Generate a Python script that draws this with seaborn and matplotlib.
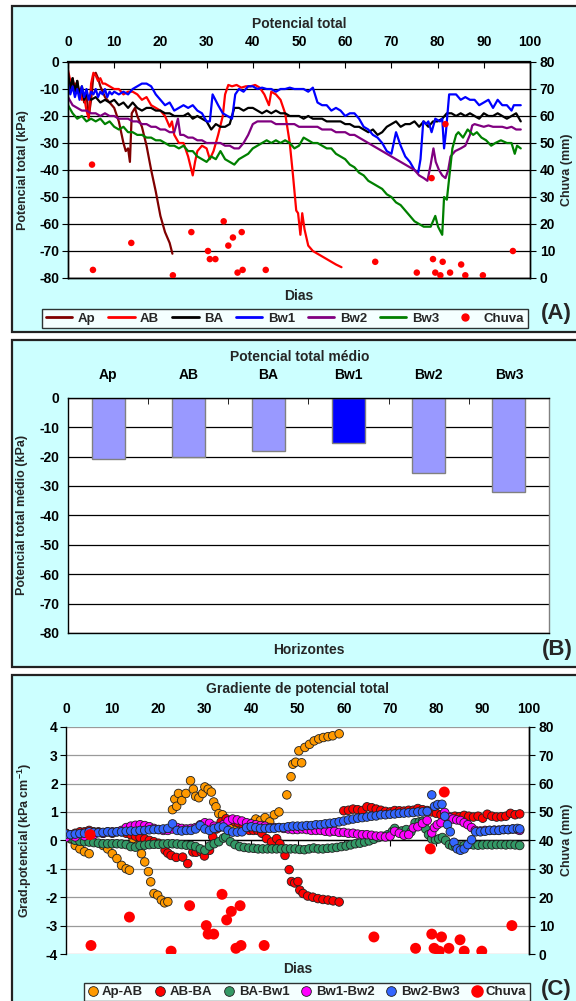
import pandas as pd
import seaborn as sns
import matplotlib.pyplot as plt
from matplotlib.lines import Line2D
from matplotlib.patches import Rectangle


# (A) potencial total (kPa) per horizon, (dia, valor)
AP = [(0, -5), (0.5, -8), (1, -6), (1.5, -11), (2, -7), (2.5, -13), (3, -10), (3.5, -15), (4, -12),
      (4.5, -20), (5, -14), (5.5, -5), (6, -4), (6.5, -6), (7, -9), (8, -13), (9, -15), (10, -17),
      (11, -22), (12, -30), (12.5, -33), (13, -32), (13.4, -37), (13.8, -19), (14.5, -17), (15, -20),
      (16, -24), (17, -31), (18, -40), (19, -48), (20, -57), (21, -63), (22, -67), (22.6, -71)]
AB = [(0, -3), (0.5, -7), (1, -9), (1.5, -8), (2, -11), (2.5, -10), (3, -14), (3.5, -13), (4, -18),
      (4.5, -21), (5, -8), (5.5, -4), (6, -5), (6.5, -7), (7, -6), (7.5, -8), (8, -8), (9, -9),
      (10, -10), (11, -10), (12, -12), (13, -11), (14, -11), (15, -12), (16, -14), (17, -13),
      (18, -16), (19, -17), (20, -18), (21, -20), (22, -24), (22.5, -22), (23, -27), (24, -30),
      (25, -30), (26, -35), (27, -42), (27.5, -37), (28, -33), (29, -31), (30, -32), (30.7, -36),
      (31.5, -33), (32.5, -27), (33.5, -20), (34, -12), (34.7, -8.5), (35.5, -9), (36.5, -8.5),
      (37.5, -9.5), (38.5, -9), (39.5, -9), (40.5, -8.5), (41.5, -9.5), (42.5, -12), (43.5, -16),
      (44, -11), (45, -12), (46, -14), (47, -19), (48, -30), (48.7, -42), (49.4, -55), (49.8, -56),
      (50.3, -64), (50.7, -56), (51.2, -62), (52, -68), (53, -70), (54, -71), (55, -72), (56, -73),
      (57, -74), (58, -75), (59.2, -76)]
BA = [(0, -4), (0.5, -10), (1, -6), (1.5, -11), (2, -7), (2.5, -12), (3, -9), (3.5, -14), (4, -12),
      (5, -14), (6, -13), (7, -15), (8, -14), (9, -15), (10, -14), (11, -16), (12, -15), (13, -17),
      (14, -15), (15, -17), (16, -18), (17, -17), (18, -17), (19, -18), (20, -18), (21, -19),
      (22, -19), (23, -20), (24, -20), (25, -20), (26, -19), (27, -21), (28, -20), (29, -21),
      (30, -22), (31, -25), (32, -23), (33, -24), (34, -24), (35, -23), (35.5, -20), (36, -17),
      (37, -17), (38, -18), (39, -17), (40, -17), (41, -18), (42, -19), (43, -18), (44, -19),
      (45, -18), (46, -19), (47, -19), (48, -20), (49, -20), (50, -20), (51, -21), (52, -20),
      (53, -21), (54, -21), (55, -21), (56, -22), (57, -22), (58, -22), (59, -22), (60, -23),
      (61, -23), (62, -24), (63, -24), (64, -25), (65, -26), (66, -25), (67, -27), (68, -26),
      (69, -24), (70, -23), (71, -22), (72, -24), (73, -23), (74, -23), (75, -22), (76, -24),
      (77, -22), (78, -24), (79, -22), (80, -22), (81, -21), (82, -19), (83, -19), (84, -20),
      (85, -19), (86, -20), (87, -19), (88, -20), (89, -21), (90, -19), (91, -20), (92, -20),
      (93, -19), (94, -20), (95, -21), (96, -20), (97, -19), (98, -22)]
BW1 = [(0, -8), (0.5, -12), (1, -9), (1.5, -13), (2, -10), (2.5, -14), (3, -9), (3.5, -13), (4, -10),
       (4.5, -14), (5, -11), (5.5, -12), (6, -10), (6.5, -13), (7, -11), (7.5, -12), (8, -10),
       (8.5, -13), (9, -11), (9.5, -12), (10, -11), (11, -12), (12, -11), (13, -12), (14, -10),
       (15, -9), (16, -8), (17, -8), (18, -9), (19, -12), (20, -14), (21, -16), (22, -15), (23, -18),
       (24, -17), (25, -16), (26, -17), (27, -16), (28, -18), (29, -19), (30, -22), (30.7, -22),
       (31.3, -12), (32.5, -16), (33.5, -19), (34.5, -20), (35.5, -21), (36.2, -12), (37, -10),
       (38, -11), (39, -9), (40, -9), (41, -10), (42, -9.5), (43, -10), (44, -10), (45, -11),
       (46, -10), (47, -10), (48, -9.5), (49, -10), (50, -10), (51, -10), (52, -11), (53, -9.5),
       (54, -15), (55, -16), (56, -16), (57, -18), (58, -17), (59, -18), (60, -20), (61, -19),
       (62, -19), (63, -21), (64, -24), (65, -25), (66, -27), (67, -28), (68, -30), (69, -33),
       (70, -34), (71, -26), (72, -31), (73, -35), (74, -37), (75, -40), (75.8, -41), (76.3, -36),
       (76.9, -22), (77.5, -23), (78, -22), (78.7, -26), (79.5, -21), (80.5, -22), (81, -21),
       (81.4, -32), (81.8, -26), (82.5, -12), (83, -12), (84, -12), (85, -14), (86, -13), (87, -14),
       (88, -14), (89, -16), (90, -15), (91, -14), (92, -17), (93, -14), (94, -16), (95, -16),
       (96, -18), (96.5, -16), (97, -16), (98, -16)]
BW2 = [(0, -13), (1, -16), (2, -17), (3, -18), (4, -18), (5, -19), (6, -19), (7, -20), (8, -19),
       (9, -20), (10, -20), (11, -21), (12, -21), (13, -21), (14, -22), (15, -22), (16, -23),
       (17, -23), (18, -24), (19, -24), (20, -25), (21, -25), (22, -26), (23, -26), (23.8, -21),
       (24.3, -27), (25, -27), (26, -28), (27, -28), (28, -29), (29, -29), (30, -30), (31, -30),
       (32, -30), (33, -30), (34, -31), (35, -31), (36, -32), (37, -32), (38, -30), (39, -27),
       (40, -23), (41, -22), (42, -22), (43, -22), (44, -22), (45, -23), (46, -23), (47, -23),
       (48, -23), (49, -23), (50, -24), (51, -24), (52, -24), (53, -24), (54, -24), (55, -25),
       (56, -25), (57, -25), (58, -26), (59, -26), (60, -26), (61, -27), (62, -27), (63, -28),
       (64, -29), (65, -30), (66, -31), (67, -32), (68, -33), (69, -34), (70, -35), (71, -36),
       (72, -37), (73, -38), (74, -39), (75, -40), (76, -42), (77, -43), (77.8, -44), (78.5, -38),
       (79.1, -32), (79.6, -37), (80.3, -40), (81, -42), (81.7, -43), (82.3, -40), (82.8, -35),
       (83.8, -33), (85, -32), (86, -31), (87, -27), (87.5, -23.5), (88, -23), (89, -23.5), (90, -24),
       (91, -23.5), (92, -24), (93, -24), (94, -24), (95, -24.5), (96, -24), (97, -25), (98, -25)]
BW3 = [(0, -16), (1, -19), (2, -21), (3, -20), (4, -22), (5, -21), (6, -22), (7, -21), (8, -23),
       (9, -22), (10, -24), (11, -25), (12, -24), (13, -26), (14, -26), (15, -27), (16, -27),
       (17, -28), (18, -28), (19, -29), (20, -29), (21, -30), (22, -31), (23, -31), (24, -32),
       (25, -31), (26, -33), (27, -33), (28, -35), (29, -36), (30, -37), (31, -35), (32, -36),
       (33, -33), (34, -36), (35, -37), (36, -38), (37, -36), (38, -35), (39, -34), (40, -32),
       (41, -31), (42, -30), (43, -29), (44, -30), (45, -29), (46, -30), (47, -29), (48, -30),
       (49, -32), (50, -31), (51, -28), (52, -29), (53, -30), (54, -30), (55, -31), (56, -32),
       (57, -32), (58, -34), (59, -35), (60, -36), (61, -38), (62, -39), (63, -41), (64, -42),
       (65, -44), (66, -45), (67, -46), (68, -47), (69, -49), (70, -50), (71, -52), (72, -53),
       (73, -55), (74, -57), (75, -59), (76, -60), (77, -61), (78, -61), (78.5, -61), (79.5, -57),
       (80.1, -61), (81, -64), (81.4, -50), (82, -51), (83.2, -32), (84, -27), (84.5, -26),
       (85.5, -28), (86.5, -25), (87.7, -27), (88.5, -26), (89.5, -28), (90.5, -29), (91.6, -31),
       (92.5, -30), (93.7, -29), (95, -30), (96, -30), (96.7, -34), (97.2, -31), (98, -32)]

# rain (mm), same events on panels A and C
CHUVA = [(5.2, 42), (5.4, 3), (13.7, 13), (22.7, 1), (26.7, 17), (30.3, 10), (30.7, 7), (31.9, 7),
         (33.7, 21), (34.7, 12), (35.7, 15), (36.7, 2), (37.6, 17), (37.8, 3), (42.8, 3), (66.5, 6),
         (75.5, 2), (78.7, 37), (79.0, 7), (79.5, 2), (80.6, 1), (81.1, 6), (81.7, 57), (82.7, 2),
         (85.1, 5), (86.0, 1), (89.8, 1), (96.3, 10)]

# (B) mean total potential per horizon
HORIZONTES = ["Ap", "AB", "BA", "Bw1", "Bw2", "Bw3"]
MEDIA = [-21, -20.3, -18, -15.3, -25.7, -32]

# (C) gradient of total potential (kPa cm-1)
AP_AB = [(0, 0.15), (1, 0.05), (2, -0.18), (3, -0.3), (4, -0.4), (5, -0.47), (8, -0.18), (9, -0.3),
         (10, -0.47), (11, -0.64), (12, -0.88), (13, -1.0), (13.7, -1.05), (14.5, 0.06), (15.5, -0.18),
         (16.3, -0.47), (17, -0.76), (17.8, -1.1), (18.3, -1.46), (19, -1.87), (19.8, -1.93),
         (20.6, -2.1), (21.3, -2.2), (22, -2.16), (23, 1.08), (23.5, 1.45), (23.9, 1.2), (24.3, 1.65),
         (25, 1.4), (25.9, 1.65), (26.9, 2.1), (27.5, 1.8), (28, 1.55), (28.7, 1.5), (29.5, 1.65),
         (30, 1.88), (30.7, 1.8), (31.4, 1.7), (31.9, 1.35), (32.4, 1.18), (33, 0.94), (33.8, 0.9),
         (35, 0.6), (36, 0.5), (37, 0.45), (38, 0.45), (39, 0.5), (40, 0.6), (41, 0.75), (42, 0.7),
         (43, 0.8), (44, 0.65), (45, 0.9), (46, 1.0), (47.7, 1.6), (48.6, 2.24), (49, 2.68),
         (49.6, 2.75), (50.3, 3.15), (50.9, 2.73), (51.6, 3.27), (52.6, 3.38), (53.6, 3.5),
         (54.6, 3.57), (55.6, 3.62), (56.6, 3.65), (57.6, 3.68), (59, 3.75)]
AB_BA = [(0, 0.25), (1, 0.2), (2, 0.25), (3, 0.3), (4, 0.3), (5, 0.35), (6, 0.3), (7, 0.3), (8, 0.25),
         (9, 0.3), (10, 0.25), (11, 0.3), (12, 0.3), (13, 0.25), (14, 0.2), (15, 0.15), (16, 0.1),
         (17, 0.05), (18, 0.0), (19, -0.05), (20, -0.1), (21.4, -0.35), (22, -0.45), (22.7, -0.53),
         (23.8, -0.6), (25.2, -0.59), (26.3, -0.82), (27.4, -0.41), (28.1, -0.42), (29.2, -0.4),
         (29.9, -0.55), (31, -0.35), (31.7, 0.12), (32.5, 0.4), (33.5, 0.65), (34.6, 0.76),
         (35.7, 0.71), (36.5, 0.65), (37.2, 0.62), (38.3, 0.5), (39.6, 0.35), (40.5, 0.35),
         (41.4, 0.35), (42.3, 0.25), (43.3, 0.06), (44.4, -0.06), (45.5, 0.06), (46.2, -0.12),
         (47.3, -0.53), (48.2, -1.03), (48.7, -1.45), (49.4, -1.5), (50.1, -1.45), (50.5, -1.75),
         (51.2, -1.87), (52.2, -1.96), (53.3, -2.0), (54.4, -2.05), (55.5, -2.08), (56.6, -2.1),
         (57.7, -2.13), (59, -2.17), (60, 1.04), (61, 1.06), (62, 1.1), (63, 1.08), (64, 1.05),
         (65, 1.18), (66, 1.15), (67, 1.1), (68, 1.06), (69, 1.02), (70, 1.0), (71, 1.05), (72, 1.04),
         (73, 1.03), (74, 1.06), (75, 1.06), (76, 1.12), (77, 1.08), (78, 1.05), (79, 1.0), (80, 0.95),
         (81, 0.9), (82, 0.85), (83, 0.82), (84, 0.85), (85, 0.83), (86, 0.88), (87, 0.85), (88, 0.82),
         (89, 0.85), (90, 0.78), (91, 0.92), (92, 0.85), (93, 0.82), (94, 0.83), (95, 0.85), (96, 0.95),
         (97, 0.9), (98, 0.93)]
BA_BW1 = [(0, 0.18), (1, 0.08), (2, 0.0), (3, -0.03), (4, -0.05), (5, -0.06), (6, -0.08), (7, -0.1),
          (8, -0.12), (9, -0.12), (10, -0.12), (11, -0.12), (12, -0.13), (13, -0.15), (14, -0.22),
          (15, -0.24), (16, -0.18), (17, -0.17), (18, -0.15), (19, -0.14), (20, -0.14), (21, -0.13),
          (22, -0.12), (23, -0.12), (24, -0.13), (25, -0.15), (26, -0.17), (27, -0.18), (28, -0.22),
          (29, -0.3), (30, -0.35), (31, -0.2), (32, -0.12), (33, -0.05), (34, 0.08), (34.5, 0.12),
          (35.5, -0.05), (36.5, -0.15), (37.5, -0.22), (38.5, -0.25), (39.5, -0.27), (40.5, -0.28),
          (41.5, -0.3), (42.5, -0.3), (43.5, -0.3), (44.5, -0.3), (45.5, -0.3), (46.5, -0.3),
          (47.5, -0.3), (48.5, -0.3), (49.5, -0.3), (50.5, -0.32), (51.5, -0.33), (52.5, -0.3),
          (53.5, -0.27), (54.5, -0.3), (55.5, -0.3), (56.5, -0.28), (57.5, -0.27), (58.5, -0.25),
          (59.5, -0.22), (60.5, -0.2), (61.5, -0.16), (62.5, -0.12), (63.5, -0.1), (64.5, -0.06),
          (65.5, -0.02), (66.5, 0.04), (67.5, 0.1), (68.5, 0.14), (69.5, 0.2), (70.5, 0.32),
          (71, 0.42), (72, 0.3), (72.5, 0.33), (73.5, 0.38), (74.5, 0.3), (75.4, 0.62), (76.3, 0.65),
          (77, 0.67), (77.7, 0.4), (78.3, 0.2), (79, 0.05), (79.8, 0.02), (80.5, 0.05), (81.3, 0.1),
          (82, 0.0), (82.8, -0.15), (83.5, -0.2), (84.2, -0.22), (85, -0.2), (86, -0.18), (87, -0.15),
          (88, -0.16), (89, -0.17), (90, -0.16), (91, -0.15), (92, -0.16), (93, -0.15), (94, -0.15),
          (95, -0.16), (96, -0.15), (97, -0.16), (98, -0.18)]
BW1_BW2 = [(0, 0.1), (2, 0.12), (4, 0.15), (6, 0.2), (8, 0.25), (10, 0.3), (12, 0.35), (13, 0.45),
           (14, 0.5), (15, 0.53), (16, 0.55), (17, 0.52), (18, 0.48), (19, 0.42), (20, 0.38),
           (21, 0.35), (22, 0.35), (23, 0.4), (24, 0.45), (25, 0.42), (26, 0.4), (27, 0.42), (28, 0.45),
           (29, 0.55), (30, 0.62), (31, 0.6), (32, 0.5), (33, 0.45), (34, 0.55), (35, 0.68), (36, 0.75),
           (37, 0.72), (38, 0.68), (39, 0.62), (40, 0.58), (41, 0.55), (42, 0.52), (43, 0.5), (44, 0.45),
           (45, 0.45), (46, 0.45), (47, 0.42), (48, 0.4), (49, 0.38), (50, 0.38), (51, 0.4), (52, 0.38),
           (53, 0.35), (54, 0.35), (55, 0.35), (56, 0.32), (57, 0.3), (58, 0.32), (59, 0.28), (60, 0.28),
           (61, 0.25), (62, 0.25), (63, 0.22), (64, 0.2), (65, 0.2), (66, 0.18), (67, 0.15), (68, 0.15),
           (69, 0.12), (70, 0.15), (71, 0.32), (72, 0.25), (73, 0.18), (74, 0.2), (75, 0.44), (76, 0.48),
           (77, 0.6), (78, 0.7), (79, 0.26), (79.6, 0.45), (80.2, 0.55), (81, 0.62), (81.8, 0.98),
           (82.8, 0.8), (83.6, 0.75), (84.4, 0.72), (85.2, 0.7), (86, 0.62), (86.8, 0.55), (87.6, 0.45),
           (88.4, 0.35), (89.5, 0.33), (90.5, 0.35), (91.5, 0.35), (92.5, 0.36), (93.5, 0.36),
           (94.5, 0.38), (95.5, 0.38), (96.5, 0.4), (97.5, 0.38), (98, 0.35)]
BW2_BW3 = [(0, 0.22), (1, 0.2), (2, 0.22), (3, 0.24), (4, 0.25), (5, 0.3), (6, 0.28), (7, 0.27),
           (8, 0.28), (9, 0.3), (10, 0.28), (11, 0.3), (12, 0.3), (13, 0.32), (14, 0.33), (15, 0.32),
           (16, 0.35), (17, 0.35), (18, 0.37), (19, 0.38), (20, 0.38), (21, 0.4), (22, 0.42), (23, 0.58),
           (24, 0.35), (25, 0.33), (26, 0.35), (27, 0.35), (28, 0.4), (29, 0.52), (30, 0.4), (31, 0.35),
           (32, 0.42), (33, 0.47), (34, 0.47), (35, 0.35), (36, 0.29), (37, 0.29), (38, 0.3), (39, 0.45),
           (40, 0.48), (41, 0.45), (42, 0.42), (43, 0.42), (44, 0.42), (45, 0.42), (46, 0.45), (47, 0.45),
           (48, 0.48), (49, 0.5), (50, 0.5), (51, 0.5), (52, 0.52), (53, 0.52), (54, 0.55), (55, 0.55),
           (56, 0.58), (57, 0.6), (58, 0.62), (59, 0.65), (60, 0.68), (61, 0.72), (62, 0.75), (63, 0.78),
           (64, 0.8), (65, 0.82), (66, 0.85), (67, 0.86), (68, 0.9), (69, 0.9), (70, 0.92), (71, 0.93),
           (72, 0.95), (73, 0.96), (74, 0.97), (75, 0.98), (76, 1.0), (77, 1.0), (78, 1.02), (79, 1.6),
           (79.6, 1.2), (80.3, 1.26), (81.2, 1.27), (81.8, 0.85), (82.4, 0.55), (83, 0.3), (83.8, -0.07),
           (84.5, -0.3), (85.2, -0.35), (86, -0.3), (86.8, -0.15), (87.6, 0.02), (88.5, 0.3), (89.5, 0.3),
           (90.5, 0.32), (91.5, 0.35), (92.5, 0.35), (93.5, 0.35), (94.5, 0.38), (95.5, 0.38),
           (96.5, 0.4), (97.5, 0.42), (98, 0.4)]

CORES_A = {"Ap": "#800000", "AB": "#FF0000", "BA": "#000000",
           "Bw1": "#0000FF", "Bw2": "#800080", "Bw3": "#008000"}
CORES_B = ["#9999FF", "#9999FF", "#9999FF", "#0000FF", "#9999FF", "#9999FF"]
CORES_C = {"Ap-AB": "#FF9900", "AB-BA": "#FF0000", "BA-Bw1": "#339966",
           "Bw1-Bw2": "#FF00FF", "Bw2-Bw3": "#3366FF"}

W, H = 576, 1001


def to_frame(series):
    frames = []
    for name, pts in series.items():
        d = pd.DataFrame(pts, columns=["Dia", "Valor"])
        d["Serie"] = name
        frames.append(d)
    return pd.concat(frames, ignore_index=True)


def px_axes(fig, left, top, right, bottom):
    # axes placed by pixel box of the reference
    return fig.add_axes([left / W, 1 - bottom / H, (right - left) / W, (bottom - top) / H])


def panel_box(fig, top, bottom):
    fig.add_artist(Rectangle((11.7 / W, 1 - bottom / H), 1.0, (bottom - top) / H,
                             transform=fig.transFigure, facecolor="#CCFFFF",
                             edgecolor="#222222", lw=1.6, zorder=0))


def fig_label(fig, x, y, s, **kw):
    fig.text(x / W, 1 - y / H, s, ha="center", va="center", **kw)


def style_spines(ax, color="black"):
    for s in ax.spines.values():
        s.set_color(color)
        s.set_linewidth(1.0)


def plot_panel_a(fig):
    ax = px_axes(fig, 68, 62, 530, 278)
    ax.set_facecolor("white")
    df = to_frame({"Ap": AP, "AB": AB, "BA": BA, "Bw1": BW1, "Bw2": BW2, "Bw3": BW3})
    sns.lineplot(data=df, x="Dia", y="Valor", hue="Serie", palette=CORES_A,
                 estimator=None, lw=1.6, legend=False, ax=ax)
    ax.set_xlim(0, 100)
    ax.set_ylim(-80, 0)
    ax.set_xticks(range(0, 101, 10))
    ax.set_yticks(range(-80, 1, 10))
    ax.xaxis.tick_top()
    ax.tick_params(axis="x", direction="in", length=4, pad=9)
    ax.tick_params(axis="y", direction="out", length=4, pad=2)
    ax.grid(axis="y", color="black", lw=0.9)
    ax.set_axisbelow(True)
    ax.set_xlabel("")
    ax.set_ylabel("")
    style_spines(ax)
    ax.spines["top"].set_linewidth(1.6)

    ax2 = ax.twinx()
    rain = pd.DataFrame(CHUVA, columns=["Dia", "mm"])
    sns.scatterplot(data=rain, x="Dia", y="mm", color="#FF0000", s=22,
                    edgecolor="none", legend=False, ax=ax2, zorder=5)
    ax2.set_ylim(0, 80)
    ax2.set_yticks(range(0, 81, 10))
    ax2.tick_params(axis="y", direction="out", length=4, pad=3)
    ax2.set_ylabel("")
    ax2.set_xlabel("")
    style_spines(ax2)

    fig_label(fig, 299, 24, "Potencial total", fontsize=10)
    fig_label(fig, 299, 296, "Dias", fontsize=10)
    fig_label(fig, 23, 170, "Potencial total (kPa)", fontsize=9, rotation=90)
    fig_label(fig, 567, 170, "Chuva (mm)", fontsize=9, rotation=90)
    fig_label(fig, 556, 314, "(A)", fontsize=16)

    handles = [Line2D([], [], color=c, lw=2) for c in CORES_A.values()]
    handles.append(Line2D([], [], marker="o", ls="", color="#FF0000", ms=5))
    labels = list(CORES_A.keys()) + ["Chuva"]
    leg = fig.legend(handles, labels, loc="center", bbox_to_anchor=(285 / W, 1 - 318.5 / H),
                     ncol=7, frameon=True, fancybox=False, handlelength=2.0,
                     handletextpad=0.4, columnspacing=1.0, borderpad=0.25,
                     prop={"weight": "bold", "size": 9.5})
    leg.get_frame().set_edgecolor("black")
    leg.get_frame().set_linewidth(1.0)


def plot_panel_b(fig):
    ax = px_axes(fig, 68, 397.7, 549, 633)
    ax.set_facecolor("white")
    sns.barplot(x=HORIZONTES, y=MEDIA, hue=HORIZONTES, palette=CORES_B, legend=False,
                saturation=1, width=0.41, edgecolor="#808080", linewidth=1.0, ax=ax)
    ax.set_ylim(-80, 0)
    ax.set_xlim(-0.5, 5.5)
    ax.set_yticks(range(-80, 1, 10))
    ax.xaxis.tick_top()
    ax.set_xticks([i + 0.5 for i in range(5)], minor=True)
    ax.tick_params(axis="x", which="major", length=0, pad=11)
    ax.tick_params(axis="x", which="minor", direction="in", length=4)
    ax.tick_params(axis="y", direction="out", length=4, pad=2)
    ax.grid(axis="y", color="black", lw=0.9)
    ax.set_axisbelow(True)
    ax.set_xlabel("")
    ax.set_ylabel("")
    style_spines(ax)
    ax.spines["right"].set_color("#808080")

    fig_label(fig, 300, 357, "Potencial total médio", fontsize=10)
    fig_label(fig, 309, 650, "Horizontes", fontsize=10)
    fig_label(fig, 22, 515, "Potencial total médio (kPa)", fontsize=9, rotation=90)
    fig_label(fig, 557, 649, "(B)", fontsize=16)


def plot_panel_c(fig):
    ax = px_axes(fig, 66, 726.7, 529, 954)
    ax.set_facecolor("white")
    df = to_frame({"Ap-AB": AP_AB, "AB-BA": AB_BA, "BA-Bw1": BA_BW1,
                   "Bw1-Bw2": BW1_BW2, "Bw2-Bw3": BW2_BW3})
    sns.scatterplot(data=df, x="Dia", y="Valor", hue="Serie", palette=CORES_C, s=38,
                    edgecolor="#202020", linewidth=0.6, legend=False, ax=ax, zorder=3)
    ax.set_xlim(0, 100)
    ax.set_ylim(-4, 4)
    ax.set_xticks(range(0, 101, 10))
    ax.set_yticks(range(-4, 5, 1))
    ax.spines["bottom"].set_position(("data", 0))
    # out-ticks add their length to the pad, so keep it small here
    ax.tick_params(axis="x", top=False, bottom=True, labeltop=True, labelbottom=False,
                   direction="out", length=4, pad=4)
    ax.tick_params(axis="y", direction="out", length=4, pad=2)
    ax.grid(axis="y", color="#9a9a9a", lw=0.9)
    ax.set_axisbelow(True)
    ax.set_xlabel("")
    ax.set_ylabel("")
    style_spines(ax)
    ax.spines["top"].set_visible(False)

    ax2 = ax.twinx()
    rain = pd.DataFrame(CHUVA, columns=["Dia", "mm"])
    sns.scatterplot(data=rain, x="Dia", y="mm", color="#FF0000", s=62,
                    edgecolor="none", legend=False, ax=ax2, zorder=5)
    ax2.set_ylim(0, 80)
    ax2.set_yticks(range(0, 81, 10))
    ax2.tick_params(axis="y", direction="out", length=4, pad=3)
    ax2.set_ylabel("")
    ax2.set_xlabel("")
    style_spines(ax2)
    for s in ["top", "bottom", "left"]:
        ax2.spines[s].set_visible(False)

    fig_label(fig, 298, 689, "Gradiente de potencial total", fontsize=10)
    fig_label(fig, 298, 969, "Dias", fontsize=10)
    fig_label(fig, 25, 840, r"Grad.potencial (kPa cm$^{\mathbf{-1}}$)", fontsize=9, rotation=90)
    fig_label(fig, 567, 840, "Chuva (mm)", fontsize=9, rotation=90)
    fig_label(fig, 556, 990, "(C)", fontsize=16)

    handles = [Line2D([], [], marker="o", ls="", markerfacecolor=c, markeredgecolor="#202020",
                      markeredgewidth=0.6, ms=7) for c in CORES_C.values()]
    handles.append(Line2D([], [], marker="o", ls="", color="#FF0000", ms=8))
    labels = list(CORES_C.keys()) + ["Chuva"]
    leg = fig.legend(handles, labels, loc="center", bbox_to_anchor=(307 / W, 1 - 992 / H),
                     ncol=6, frameon=True, fancybox=False, handlelength=0.8,
                     handletextpad=0.3, columnspacing=0.9, borderpad=0.25,
                     prop={"weight": "bold", "size": 9.5})
    leg.get_frame().set_edgecolor("black")
    leg.get_frame().set_linewidth(1.0)


def main():
    sns.set_style("white")
    plt.rcParams["font.family"] = ["Liberation Sans", "DejaVu Sans"]
    plt.rcParams["font.weight"] = "bold"
    plt.rcParams["axes.unicode_minus"] = False
    plt.rcParams["xtick.labelsize"] = 10
    plt.rcParams["ytick.labelsize"] = 10
    plt.rcParams["xtick.color"] = "black"
    plt.rcParams["ytick.color"] = "black"
    plt.rcParams["mathtext.fontset"] = "custom"
    plt.rcParams["mathtext.rm"] = "Liberation Sans:bold"
    plt.rcParams["mathtext.bf"] = "Liberation Sans:bold"

    fig = plt.figure(figsize=(W / 100, H / 100), dpi=100)
    fig.patch.set_facecolor("white")
    panel_box(fig, 5.7, 332)
    panel_box(fig, 340, 667)
    panel_box(fig, 675, 1010)

    plot_panel_a(fig)
    plot_panel_b(fig)
    plot_panel_c(fig)
    fig.savefig("out.png", dpi=100)


if __name__ == "__main__":
    main()
